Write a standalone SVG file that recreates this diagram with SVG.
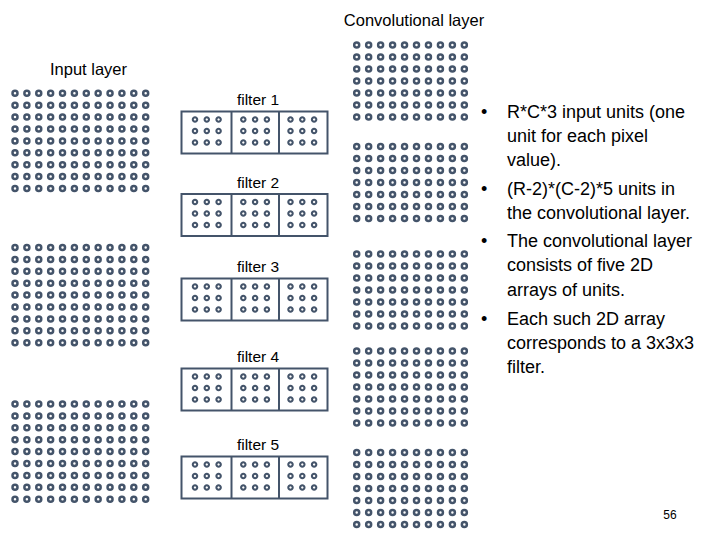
<svg xmlns="http://www.w3.org/2000/svg" xmlns:xlink="http://www.w3.org/1999/xlink" width="720" height="540" viewBox="0 0 720 540">
<style>
.dot{fill:#ffffff;stroke:#44546A;stroke-width:2.5}
.fdot{fill:#ffffff;stroke:#44546A;stroke-width:2.1}
.box{fill:#ffffff;stroke:#44546A;stroke-width:2}
.div{stroke:#44546A;stroke-width:2}
.t{font-family:"Liberation Sans",Arial,sans-serif;fill:#000000}
.lbl{font-size:15.5px;text-anchor:middle}
.bul{font-size:18px}
</style>
<defs>
<circle id="d" r="2.5" class="dot"/>
<circle id="fd" r="2.2" class="fdot"/>
<g id="row12">
<use xlink:href="#d" x="0"/><use xlink:href="#d" x="11.88"/><use xlink:href="#d" x="23.76"/><use xlink:href="#d" x="35.64"/><use xlink:href="#d" x="47.52"/><use xlink:href="#d" x="59.4"/><use xlink:href="#d" x="71.28"/><use xlink:href="#d" x="83.16"/><use xlink:href="#d" x="95.04"/><use xlink:href="#d" x="106.92"/><use xlink:href="#d" x="118.8"/><use xlink:href="#d" x="130.68"/>
</g>
<g id="in">
<use xlink:href="#row12" y="0"/><use xlink:href="#row12" y="11.9"/><use xlink:href="#row12" y="23.8"/><use xlink:href="#row12" y="35.7"/><use xlink:href="#row12" y="47.6"/><use xlink:href="#row12" y="59.5"/><use xlink:href="#row12" y="71.4"/><use xlink:href="#row12" y="83.3"/><use xlink:href="#row12" y="95.2"/>
</g>
<g id="row10">
<use xlink:href="#d" x="0"/><use xlink:href="#d" x="11.96"/><use xlink:href="#d" x="23.92"/><use xlink:href="#d" x="35.88"/><use xlink:href="#d" x="47.84"/><use xlink:href="#d" x="59.8"/><use xlink:href="#d" x="71.76"/><use xlink:href="#d" x="83.72"/><use xlink:href="#d" x="95.68"/><use xlink:href="#d" x="107.64"/>
</g>
<g id="cv">
<use xlink:href="#row10" y="0"/><use xlink:href="#row10" y="12"/><use xlink:href="#row10" y="24"/><use xlink:href="#row10" y="36"/><use xlink:href="#row10" y="48"/><use xlink:href="#row10" y="60"/><use xlink:href="#row10" y="72"/>
</g>
<g id="cell">
<use xlink:href="#fd" x="0" y="0"/><use xlink:href="#fd" x="11.8" y="0"/><use xlink:href="#fd" x="23.6" y="0"/>
<use xlink:href="#fd" x="0" y="11.5"/><use xlink:href="#fd" x="11.8" y="11.5"/><use xlink:href="#fd" x="23.6" y="11.5"/>
<use xlink:href="#fd" x="0" y="23"/><use xlink:href="#fd" x="11.8" y="23"/><use xlink:href="#fd" x="23.6" y="23"/>
</g>
<g id="filt">
<rect class="box" x="181.5" y="0" width="146" height="42"/>
<line class="div" x1="231.5" y1="0" x2="231.5" y2="42"/>
<line class="div" x1="279" y1="0" x2="279" y2="42"/>
<use xlink:href="#cell" x="195" y="8"/>
<use xlink:href="#cell" x="243.3" y="8"/>
<use xlink:href="#cell" x="290.5" y="8"/>
</g>
</defs>
<rect width="720" height="540" fill="#ffffff"/>

<text class="t" x="414" y="26" font-size="16.5" text-anchor="middle">Convolutional layer</text>

<g id="input-layer">
<text class="t" x="88.5" y="74.5" font-size="16.5" text-anchor="middle">Input layer</text>
<use xlink:href="#in" x="15" y="93.3"/>
<use xlink:href="#in" x="15" y="247.5"/>
<use xlink:href="#in" x="15" y="404"/>
</g>

<g id="filter1">
<text class="t lbl" x="258" y="104.5">filter 1</text>
<use xlink:href="#filt" y="111.5"/>
</g>
<g id="filter2">
<text class="t lbl" x="258" y="187.5">filter 2</text>
<use xlink:href="#filt" y="194"/>
</g>
<g id="filter3">
<text class="t lbl" x="258" y="272">filter 3</text>
<use xlink:href="#filt" y="278.5"/>
</g>
<g id="filter4">
<text class="t lbl" x="258" y="361.5">filter 4</text>
<use xlink:href="#filt" y="368.5"/>
</g>
<g id="filter5">
<text class="t lbl" x="258" y="449.5">filter 5</text>
<use xlink:href="#filt" y="456.5"/>
</g>

<g id="conv-layer">
<use xlink:href="#cv" x="356.7" y="45"/>
<use xlink:href="#cv" x="356.7" y="146.5"/>
<use xlink:href="#cv" x="356.7" y="254"/>
<use xlink:href="#cv" x="356.7" y="351"/>
<use xlink:href="#cv" x="356.7" y="452.5"/>
</g>

<g id="notes" class="t bul">
<text x="481" y="118">•</text><text x="507" y="118">R*C*3 input units (one</text>
<text x="507" y="142">unit for each pixel</text>
<text x="507" y="166">value).</text>
<text x="481" y="195">•</text><text x="507" y="195">(R-2)*(C-2)*5 units in</text>
<text x="507" y="219">the convolutional layer.</text>
<text x="481" y="247">•</text><text x="507" y="247">The convolutional layer</text>
<text x="507" y="271">consists of five 2D</text>
<text x="507" y="296">arrays of units.</text>
<text x="481" y="325">•</text><text x="507" y="325">Each such 2D array</text>
<text x="507" y="349">corresponds to a 3x3x3</text>
<text x="507" y="373">filter.</text>
</g>

<text class="t" x="670" y="519" font-size="12" text-anchor="middle" fill="#595959">56</text>
</svg>
